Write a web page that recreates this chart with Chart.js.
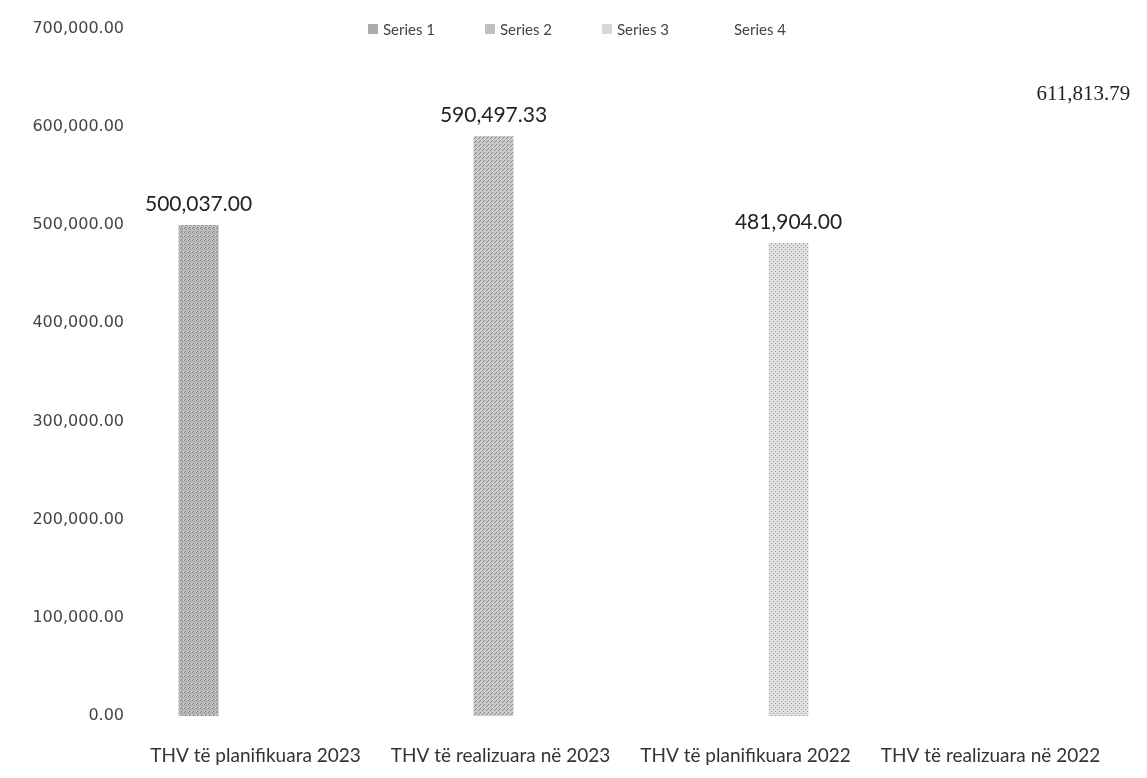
<!DOCTYPE html>
<html>
<head>
<meta charset="utf-8">
<script src="https://cdn.jsdelivr.net/npm/chart.js@4.4.0/dist/chart.umd.min.js"></script>
<style>
  body { margin: 0; background: #fff; }
  #wrap { position: relative; width: 1147px; height: 778px; }
  #legend { position: absolute; left: 368px; top: 20px; display: flex; font: 15px Lato, sans-serif; color: #444; }
  #legend .item { display: flex; align-items: center; width: 117px; }
  #legend .box { width: 10px; height: 10px; margin-right: 5px; }
</style>
</head>
<body>
<div id="wrap">
  <canvas id="chart"></canvas>
  <div id="legend"></div>
</div>
<script>
const categories = [
  "THV të planifikuara 2023",
  "THV të realizuara në 2023",
  "THV të planifikuara 2022",
  "THV të realizuara në 2022",
];
const seriesNames = ["Series 1", "Series 2", "Series 3", "Series 4"];
const series1 = [500037.00, null, null, null];
const series2 = [null, 590497.33, null, null];
const series3 = [null, null, 481904.00, null];
const series4 = [null, null, null, 611813.79];

// stippled grey fill, a bit like the scanned print
function stipple(base, dot, spots) {
  const c = document.createElement("canvas");
  c.width = 4;
  c.height = 4;
  const g = c.getContext("2d");
  g.fillStyle = base;
  g.fillRect(0, 0, 4, 4);
  g.fillStyle = dot;
  spots.forEach(function (p) { g.fillRect(p[0], p[1], 1, 1); });
  return g.createPattern(c, "repeat");
}
const ctx = document.getElementById("chart").getContext("2d");
const fills = [
  stipple("#bcbcbc", "#808080", [[0, 0], [2, 1], [1, 3]]),
  stipple("#cacaca", "#8c8c8c", [[0, 0], [2, 2], [3, 1]]),
  stipple("#e0e0e0", "#9e9e9e", [[1, 1], [3, 3]]),
  "rgba(255,255,255,0)",
];

function fmt(v) {
  return v.toLocaleString("en-US", { minimumFractionDigits: 2, maximumFractionDigits: 2 });
}

const valueLabels = {
  id: "valueLabels",
  afterDatasetsDraw(chart) {
    const c = chart.ctx;
    chart.data.datasets.forEach(function (ds, i) {
      chart.getDatasetMeta(i).data.forEach(function (bar, j) {
        const v = ds.data[j];
        if (v == null) return;
        c.save();
        c.font = i === 3 ? '21px "Liberation Serif"' : "21px Lato";
        c.fillStyle = "#222";
        c.textAlign = "center";
        c.textBaseline = "bottom";
        c.fillText(fmt(v), bar.x, bar.y - 10);
        c.restore();
      });
    });
  },
};

const allSeries = [series1, series2, series3, series4];
const myChart = new Chart(ctx, {
  type: "bar",
  data: {
    labels: categories,
    datasets: allSeries.map(function (d, i) {
      return {
        label: seriesNames[i],
        data: d,
        backgroundColor: fills[i],
        categoryPercentage: 0.816,
        barPercentage: 0.8,
      };
    }),
  },
  options: {
    responsive: true,
    maintainAspectRatio: false,
    animation: false,
    layout: { padding: { top: 17, right: 16, left: 0, bottom: 0 } },
    plugins: {
      legend: { display: false },
      tooltip: { enabled: false },
    },
    scales: {
      x: {
        grid: { display: false },
        border: { display: false },
        ticks: {
          color: "#333",
          font: { family: "Lato", size: 19 },
          padding: 20,
          labelOffset: -18,
          maxRotation: 0,
          autoSkip: false,
        },
        afterFit: function (s) { s.height = 62; },
      },
      y: {
        min: 0,
        max: 700000,
        grid: { display: false },
        border: { display: false },
        ticks: {
          stepSize: 100000,
          color: "#444",
          font: { family: "DejaVu Sans", size: 16 },
          padding: 19,
          callback: function (v) { return fmt(v); },
        },
        afterFit: function (s) { s.width = 151; },
      },
    },
  },
  plugins: [valueLabels],
});

// legend drawn as html so it can sit over the top of the plot like the original
const legend = document.getElementById("legend");
myChart.data.datasets.forEach(function (ds, i) {
  const item = document.createElement("div");
  item.className = "item";
  const box = document.createElement("span");
  box.className = "box";
  box.style.background = ["#ababab", "#c0c0c0", "#d8d8d8", "transparent"][i];
  const txt = document.createElement("span");
  txt.textContent = ds.label;
  item.appendChild(box);
  item.appendChild(txt);
  legend.appendChild(item);
});
</script>
</body>
</html>
